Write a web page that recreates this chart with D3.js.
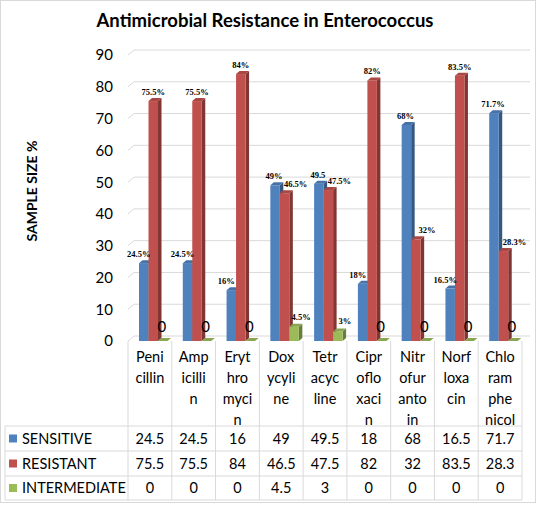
<!DOCTYPE html>
<html><head><meta charset="utf-8">
<script src="https://cdn.jsdelivr.net/npm/d3@7"></script>
<style>body{margin:0;background:#fff}svg{display:block}</style>
</head><body>
<svg id="c" width="546" height="507"></svg>
<script>
const categories = ["Penicillin","Ampicillin","Erythromycin","Doxycyline","Tetracycline","Ciprofloxacin","Nitrofurantoin","Norfloxacin","Chloramphenicol"];
const categoryLines = [["Peni","cillin"],["Amp","icilli","n"],["Eryt","hro","myci","n"],["Dox","ycyli","ne"],["Tetr","acyc","line"],["Cipr","oflo","xaci","n"],["Nitr","ofur","anto","in"],["Norf","loxa","cin"],["Chlo","ram","phe","nicol"]];
const seriesNames = ["SENSITIVE","RESISTANT","INTERMEDIATE"];
const sensitive = [24.5,24.5,16,49,49.5,18,68,16.5,71.7];
const resistant = [75.5,75.5,84,46.5,47.5,82,32,83.5,28.3];
const intermediate = [0,0,0,4.5,3,0,0,0,0];
const sensitiveLabels = ["24.5%","24.5%","16%","49%","49.5","18%","68%","16.5%","71.7%"];
const resistantLabels = ["75.5%","75.5%","84%","46.5%","47.5%","82%","32%","83.5%","28.3%"];
const intermediateLabels = ["0","0","0","4.5%","3%","0","0","0","0"];
const tableText = [
  ["24.5","24.5","16","49","49.5","18","68","16.5","71.7"],
  ["75.5","75.5","84","46.5","47.5","82","32","83.5","28.3"],
  ["0","0","0","4.5","3","0","0","0","0"]];
const yTicks = [0,10,20,30,40,50,60,70,80,90];
const colors = ["#4F81BD","#C0504D","#9BBB59"];

const svg = d3.select("#c");
const font = "Lato, 'Open Sans', sans-serif";
const serif = "'Liberation Serif', 'Times New Roman', serif";

// outer border
svg.append("rect").attr("x",0.5).attr("y",0.5).attr("width",535).attr("height",502)
  .attr("fill","#fff").attr("stroke","#d9d9d9");

// title
svg.append("text").attr("x",265).attr("y",27).attr("text-anchor","middle")
  .attr("font-family",font).attr("font-weight","bold").attr("font-size",18.5)
  .attr("fill","#000").text("Antimicrobial Resistance in Enterococcus");

const y = d3.scaleLinear().domain([0,90]).range([341,55]);
const x = d3.scaleBand().domain(categories).range([128,522]);
const xs = d3.scaleBand().domain(seriesNames).range([11,39.5]);
const DX = 6, DY = 5;   // back wall offset
const dx = 3.5, dy = 3; // bar depth

// gridlines on back wall
const grid = svg.append("g");
yTicks.forEach(t=>{
  grid.append("path").attr("d",`M128,${y(t)}L${128+DX},${y(t)-DY}L530,${y(t)-DY}`)
    .attr("fill","none").attr("stroke","#d9d9d9").attr("stroke-width",1);
});
// y tick labels
svg.append("g").selectAll("text").data(yTicks).join("text")
  .attr("x",113).attr("y",d=>y(d)).attr("dy","0.36em").attr("text-anchor","end")
  .attr("font-family",font).attr("font-size",15).attr("fill","#000").text(d=>d);

// y title
svg.append("text").attr("transform","translate(37,191) rotate(-90)").attr("text-anchor","middle")
  .attr("font-family",font).attr("font-weight","bold").attr("font-size",14).attr("fill","#000")
  .text("SAMPLE SIZE %");

// bars
const seriesVals = [sensitive,resistant,intermediate];
const bars = svg.append("g");
categories.forEach((c,i)=>{
  seriesNames.forEach((s,k)=>{
    const v = seriesVals[k][i];
    const x0 = x(c)+xs(s), w = xs.bandwidth(), yt = y(v), yb = y(0);
    const col = d3.color(colors[k]);
    bars.append("path").attr("d",`M${x0+w},${yt}L${x0+w+dx},${yt-dy}L${x0+w+dx},${yb-dy}L${x0+w},${yb}Z`)
      .attr("fill",col.darker(1.1));
    bars.append("rect").attr("x",x0).attr("y",yt).attr("width",w).attr("height",yb-yt)
      .attr("fill",colors[k]);
    bars.append("path").attr("d",`M${x0},${yt}L${x0+dx},${yt-dy}L${x0+w+dx},${yt-dy}L${x0+w},${yt}Z`)
      .attr("fill",col.darker(0.35));
  });
});

// data labels
const lab = svg.append("g");
categories.forEach((c,i)=>{
  const w = xs.bandwidth();
  const cx = k => x(c)+xs(seriesNames[k])+w/2;
  const sShift = sensitive[i] < resistant[i] ? -5 : -1;
  lab.append("text").attr("x",cx(0)+sShift).attr("y",y(sensitive[i])-9).attr("dy","0.35em")
    .attr("text-anchor","middle").attr("font-family",serif).attr("font-weight","bold")
    .attr("font-size",8.5).attr("fill","#000").text(sensitiveLabels[i]);
  const rShift = resistant[i] < sensitive[i] ? 11 : 0;
  lab.append("text").attr("x",cx(1)+rShift).attr("y",y(resistant[i])-9).attr("dy","0.35em")
    .attr("text-anchor","middle").attr("font-family",serif).attr("font-weight","bold")
    .attr("font-size",8.5).attr("fill","#000").text(resistantLabels[i]);
  if (intermediate[i] === 0) {
    lab.append("text").attr("x",cx(2)-1).attr("y",y(0)-14).attr("dy","0.36em")
      .attr("text-anchor","middle").attr("font-family",font).attr("font-size",15)
      .attr("fill","#000").text(intermediateLabels[i]);
  } else {
    lab.append("text").attr("x",cx(2)+7).attr("y",y(intermediate[i])-10).attr("dy","0.35em")
      .attr("text-anchor","middle").attr("font-family",serif).attr("font-weight","bold")
      .attr("font-size",8.5).attr("fill","#000").text(intermediateLabels[i]);
  }
});

// data table
const tbl = svg.append("g");
const lineC = "#d9d9d9";
const rowY = [426,451,476,500];
rowY.forEach(yy=>tbl.append("line").attr("x1",5).attr("x2",522).attr("y1",yy).attr("y2",yy).attr("stroke",lineC));
tbl.append("line").attr("x1",5).attr("x2",5).attr("y1",426).attr("y2",500).attr("stroke",lineC);
categories.forEach((c,i)=>{
  tbl.append("line").attr("x1",x(c)).attr("x2",x(c)).attr("y1",341).attr("y2",500).attr("stroke",lineC);
});
tbl.append("line").attr("x1",522).attr("x2",522).attr("y1",341).attr("y2",500).attr("stroke",lineC);
categories.forEach((c,i)=>{
  categoryLines[i].forEach((ln,j)=>{
    tbl.append("text").attr("x",x(c)+x.bandwidth()/2).attr("y",357+j*21).attr("dy","0.36em")
      .attr("text-anchor","middle").attr("font-family",font).attr("font-size",14.5).attr("fill","#000").text(ln);
  });
  tableText.forEach((row,k)=>{
    tbl.append("text").attr("x",x(c)+x.bandwidth()/2).attr("y",(rowY[k]+rowY[k+1])/2).attr("dy","0.36em")
      .attr("text-anchor","middle").attr("font-family",font).attr("font-size",14.5).attr("fill","#000").text(row[i]);
  });
});
seriesNames.forEach((s,k)=>{
  const cy = (rowY[k]+rowY[k+1])/2;
  tbl.append("rect").attr("x",9).attr("y",cy-4).attr("width",8).attr("height",8).attr("fill",colors[k]);
  tbl.append("text").attr("x",22).attr("y",cy).attr("dy","0.36em").attr("font-family",font)
    .attr("font-size",14.5).attr("fill","#000").text(s);
});
</script>
</body></html>
